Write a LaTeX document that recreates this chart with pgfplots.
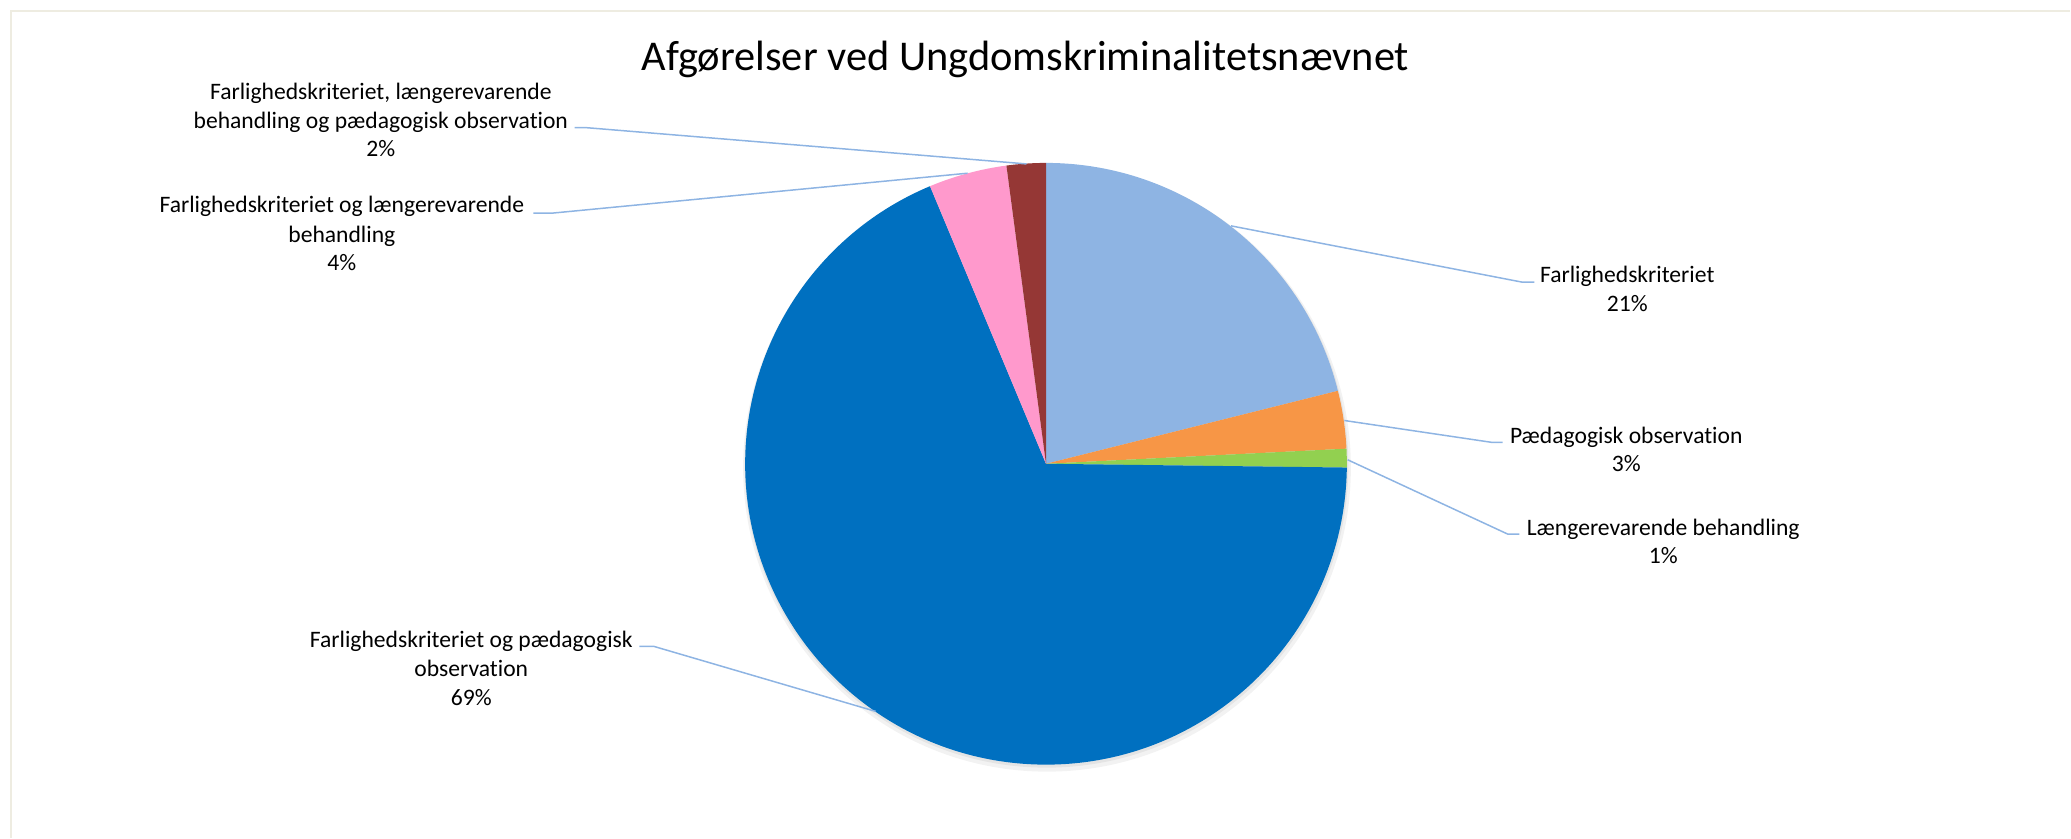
\documentclass[border=0pt]{standalone}
\usepackage{pgfplots}
\pgfplotsset{compat=1.18}
\usepackage{fontspec}
\setmainfont{Carlito}[Ligatures={NoCommon,NoRare,NoContextual}]
\definecolor{lblue}{HTML}{8EB4E3}
\definecolor{orng}{HTML}{F79646}
\definecolor{lgreen}{HTML}{92D050}
\definecolor{dblue}{HTML}{0070C0}
\definecolor{pink}{HTML}{FF99CC}
\definecolor{dred}{HTML}{953735}
\definecolor{frame}{HTML}{EEECE1}
\definecolor{leader}{HTML}{8EB4E3}
\tikzset{lbl/.style={font=\fontsize{11.8bp}{14bp}\selectfont, anchor=base, inner sep=0pt}}

\begin{document}
\begin{tikzpicture}
\begin{axis}[
  width=1035.5bp, height=419bp, scale only axis,
  xmin=0, xmax=2071, ymin=0, ymax=838, y dir=reverse,
  hide axis, clip=false,
]
\path (axis cs:0,0) rectangle (axis cs:2071,838);
\draw[frame, line width=1bp] (axis cs:11,838) -- (axis cs:11,11) -- (axis cs:2071,11);

% soft shadow
\fill[black, opacity=0.05] (axis cs:1047.5,468) circle[radius=152bp];
\fill[black, opacity=0.06] (axis cs:1047,466) circle[radius=151bp];

% slices, shares in percent, clockwise from 12 o'clock
\gdef\cum{0}
\foreach \v/\c in {21.1/lblue, 3.1/orng, 1.0/lgreen, 68.5/dblue, 4.2/pink, 2.1/dred}{
  \pgfmathsetmacro\a{90-3.6*\cum}
  \pgfmathsetmacro\b{90-3.6*(\cum+\v)}
  \edef\temp{\noexpand\fill[\c] (axis cs:1046.5,464) -- ++(\a:150.5bp)
    arc[start angle=\a, end angle=\b, radius=150.5bp] -- cycle;}
  \temp
  \pgfmathparse{\cum+\v}\xdef\cum{\pgfmathresult}
}

% leader lines
\draw[leader, line width=0.75bp] (axis cs:1231.7,226) -- (axis cs:1523,282.3) -- (axis cs:1535,282.3);
\draw[leader, line width=0.75bp] (axis cs:1345,420.7) -- (axis cs:1493.3,442.7) -- (axis cs:1503.3,442.7);
\draw[leader, line width=0.75bp] (axis cs:1348.3,460) -- (axis cs:1508.3,534.3) -- (axis cs:1520,534.3);
\draw[leader, line width=0.75bp] (axis cs:876,711.7) -- (axis cs:654.2,646.7) -- (axis cs:639.7,646.7);
\draw[leader, line width=0.75bp] (axis cs:968,173.3) -- (axis cs:551.8,213.3) -- (axis cs:533.5,213.3);
\draw[leader, line width=0.75bp] (axis cs:1027,164) -- (axis cs:586.3,127.7) -- (axis cs:574.8,127.7);

% title
\node[font=\fontsize{21.2bp}{25bp}\selectfont, anchor=base, inner sep=0pt] at (axis cs:1026,71) {Afgørelser ved Ungdomskriminalitetsnævnet};

% labels
\node[lbl] at (axis cs:1628,282.3) {Farlighedskriteriet};
\node[lbl] at (axis cs:1628,311.7) {21\%};
\node[lbl] at (axis cs:1627,443.3) {Pædagogisk observation};
\node[lbl] at (axis cs:1627,471.7) {3\%};
\node[lbl] at (axis cs:1664,536) {Længerevarende behandling};
\node[lbl] at (axis cs:1664,563.3) {1\%};
\node[lbl] at (axis cs:471.5,648) {Farlighedskriteriet og pædagogisk};
\node[lbl] at (axis cs:471.5,677) {observation};
\node[lbl] at (axis cs:471.5,706) {69\%};
\node[lbl] at (axis cs:342,212.7) {Farlighedskriteriet og længerevarende};
\node[lbl] at (axis cs:342,242.7) {behandling};
\node[lbl] at (axis cs:342,271) {4\%};
\node[lbl] at (axis cs:381,99.3) {Farlighedskriteriet, længerevarende};
\node[lbl] at (axis cs:381,128.3) {behandling og pædagogisk observation};
\node[lbl] at (axis cs:381,156.7) {2\%};
\end{axis}
\end{tikzpicture}
\end{document}
